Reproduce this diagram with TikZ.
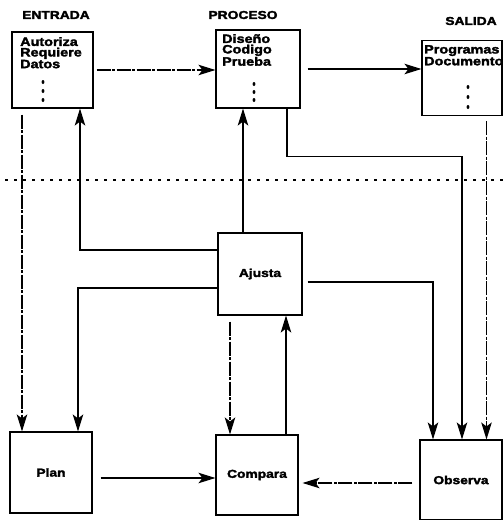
\documentclass[tikz,border=0pt]{standalone}
\usepackage{fontspec}
\setmainfont{Liberation Sans}[FakeStretch=1.2,BoldFeatures={FakeBold=2.5}]
\usetikzlibrary{arrows.meta,shapes.geometric}
\begin{document}
\begin{tikzpicture}[x=1pt,y=-1pt,
  font=\fontsize{11.5}{10}\selectfont\bfseries,
  box/.style={draw,line width=1.1pt,inner sep=0pt},
  lbl/.style={inner sep=0pt},
  listtext/.style={inner sep=0pt,anchor=north west,align=left,font=\fontsize{12}{10.5}\selectfont\bfseries},
  conn/.style={line width=1.2pt},
  arr/.style={conn,-{Stealth[length=17pt,width=10.5pt,inset=4pt]}},
  dashy/.style={dash pattern=on 14pt off 1.5pt on 3pt off 1.5pt},
  dotline/.style={line width=1.5pt,dash pattern=on 3pt off 6pt},
  dot/.style={fill,ellipse,inner sep=0pt,minimum width=2.8pt,minimum height=4pt}]
\useasboundingbox (0,0) rectangle (503,520);

% headings
\node[lbl] (hEntrada) at (56,15) {ENTRADA};
\node[lbl] (hProceso) at (243,15) {PROCESO};
\node[lbl] (hSalida) at (471,21) {SALIDA};

% top boxes
\node[box,minimum width=81pt,minimum height=76pt] (entrada) at (52.5,70) {};
\node[box,minimum width=84pt,minimum height=78pt] (proceso) at (258,69) {};
\node[box,minimum width=80pt,minimum height=75pt] (salida) at (462,78) {};

\node[listtext] (tEntrada) at (20,37) {Autoriza\\Requiere\\Datos};
\node[dot] (e1) at (43,82) {};
\node[dot] (e2) at (43,91) {};
\node[dot] (e3) at (43,100) {};

\node[listtext] (tProceso) at (222,34) {Diseño\\Codigo\\Prueba};
\node[dot] (p1) at (254,84) {};
\node[dot] (p2) at (254,92) {};
\node[dot] (p3) at (254,100) {};

\node[listtext] (tSalida) at (424,45) {Programas\\Documento};
\node[dot] (s1) at (468,87) {};
\node[dot] (s2) at (468,97) {};
\node[dot] (s3) at (468,107) {};

% dotted boundary
\coordinate (dl) at (5,180);
\coordinate (dr) at (503,180);
\draw[dotline] (dl) -- (dr);

% middle and bottom boxes
\node[box,minimum width=84pt,minimum height=82pt] (ajusta) at (260,274) {Ajusta};
\node[box,minimum width=82pt,minimum height=81pt] (plan) at (51,472.5) {Plan};
\node[box,minimum width=82pt,minimum height=80pt] (compara) at (257,475) {Compara};
\node[box,minimum width=82pt,minimum height=80pt] (observa) at (461,480) {Observa};

% connectors
\draw[arr,dashy,shorten <=3pt] (entrada.east) -- (entrada.east -| proceso.west);
\draw[arr,shorten <=7pt] (proceso.east) -- (proceso.east -| salida.west);

\draw[arr] ([yshift=24pt]ajusta.west) -| ([xshift=27.5pt]entrada.south);
\draw[arr] ([yshift=-14pt]ajusta.west) -| ([xshift=27pt]plan.north);
\draw[arr] ([xshift=-17pt]ajusta.north) -- ([xshift=-17pt]ajusta.north |- proceso.south);
\draw[arr,dashy,shorten <=6pt] ([xshift=-30.5pt]entrada.south) -- ([xshift=-30.5pt]entrada.south |- plan.north);
\draw[arr] ([xshift=29pt]compara.north) -- ([xshift=29pt]compara.north |- ajusta.south);
\draw[arr,dashy,shorten <=6pt] ([xshift=-30pt]ajusta.south) -- ([xshift=-30pt]ajusta.south |- compara.north);
\draw[arr,shorten <=5pt] ([yshift=-8pt]ajusta.east) -| ([xshift=-28pt]observa.north);
\draw[arr] ([xshift=29pt]proceso.south) -- ++(0,48) -| ([xshift=1pt]observa.north);
\draw[arr,dashy,shorten <=5pt] ([xshift=24.5pt]salida.south) -- ([xshift=24.5pt]salida.south |- observa.north);
\draw[arr,shorten <=8pt] ([yshift=-5.5pt]plan.east) -- ([yshift=-5.5pt]plan.east -| compara.west);
\draw[arr,dashy,shorten <=7pt,shorten >=4pt] ([yshift=-3pt]observa.west) -- ([yshift=-3pt]observa.west -| compara.east);
\end{tikzpicture}
\end{document}
